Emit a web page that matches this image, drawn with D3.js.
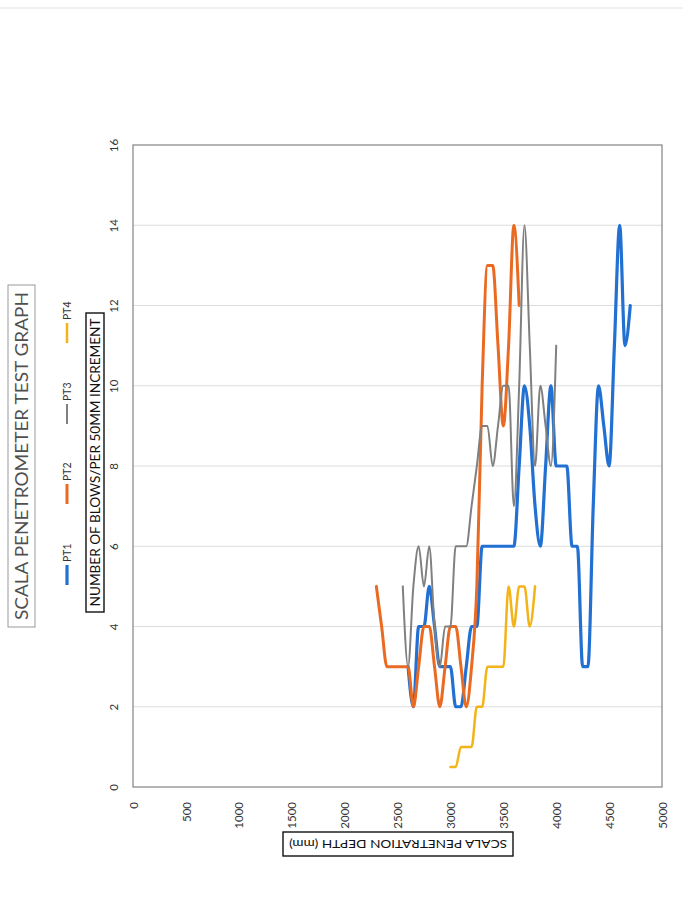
<!DOCTYPE html>
<html>
<head>
<meta charset="utf-8">
<script src="https://cdn.jsdelivr.net/npm/d3@7"></script>
<style>
  html, body { margin: 0; padding: 0; background: #ffffff; }
  svg { display: block; }
</style>
</head>
<body>
<svg id="chart" width="683" height="900"></svg>
<script>
// Scala penetrometer readings: depth (mm) against blows per 50 mm increment
const depthTicks = [0, 500, 1000, 1500, 2000, 2500, 3000, 3500, 4000, 4500, 5000];
const blowTicks = [0, 2, 4, 6, 8, 10, 12, 14, 16];
const seriesNames = ["PT1", "PT2", "PT3", "PT4"];

const pt1Depth = [2600, 2650, 2700, 2750, 2800, 2850, 2900, 2950, 3000, 3050, 3100, 3150, 3200, 3250,
  3300, 3350, 3400, 3450, 3500, 3550, 3600, 3650, 3700, 3750, 3800, 3850, 3900, 3950, 4000, 4050,
  4100, 4150, 4200, 4250, 4300, 4350, 4400, 4450, 4500, 4550, 4600, 4650, 4700];
const pt1Blows = [3, 2, 4, 4, 5, 4, 3, 3, 3, 2, 2, 3, 4, 4,
  6, 6, 6, 6, 6, 6, 6, 8, 10, 9, 7, 6, 8, 10, 8, 8,
  8, 6, 6, 3, 3, 7, 10, 9, 8, 11, 14, 11, 12];

const pt2Depth = [2300, 2350, 2400, 2450, 2500, 2550, 2600, 2650, 2700, 2750, 2800, 2850, 2900, 2950,
  3000, 3050, 3100, 3150, 3200, 3250, 3300, 3350, 3400, 3450, 3500, 3550, 3600, 3650];
const pt2Blows = [5, 4, 3, 3, 3, 3, 3, 2, 3, 4, 4, 3, 2, 3,
  4, 4, 3, 2, 3, 5, 10, 13, 13, 11, 9, 11, 14, 12];

const pt3Depth = [2550, 2600, 2650, 2700, 2750, 2800, 2850, 2900, 2950, 3000, 3050, 3100, 3150, 3200,
  3250, 3300, 3350, 3400, 3450, 3500, 3550, 3600, 3650, 3700, 3750, 3800, 3850, 3900, 3950, 4000];
const pt3Blows = [5, 3, 5, 6, 5, 6, 4, 3, 4, 4, 6, 6, 6, 7,
  8, 9, 9, 8, 9, 10, 10, 7, 10, 14, 11, 8, 10, 9, 8, 11];

const pt4Depth = [3000, 3050, 3100, 3150, 3200, 3250, 3300, 3350, 3400, 3450, 3500, 3550, 3600,
  3650, 3700, 3750, 3800];
const pt4Blows = [0.5, 0.5, 1, 1, 1, 2, 2, 3, 3, 3, 3, 5, 4, 5, 5, 4, 5];

const lineColors = ["#2170d2", "#ea6a22", "#808080", "#f2b418"];
const lineWidths = [3.2, 3, 2, 2.5];

const seriesTable = [
  [pt1Depth, pt1Blows], [pt2Depth, pt2Blows], [pt3Depth, pt3Blows], [pt4Depth, pt4Blows]
].map(([dep, bl], i) => ({
  name: seriesNames[i],
  color: lineColors[i],
  width: lineWidths[i],
  values: dep.map((d, j) => ({ depth: d, blows: bl[j] }))
}));

const svg = d3.select("#chart");
const font = "Lato, 'Open Sans', 'Liberation Sans', sans-serif";

// faint sheet edge near the top
svg.append("line").attr("x1", 0).attr("x2", 683).attr("y1", 8).attr("y2", 8)
  .attr("stroke", "#e4e4e4").attr("stroke-width", 1);

const plot = { left: 133, right: 662, top: 145, bottom: 787 };

const x = d3.scaleLinear().domain([0, 5000]).range([plot.left, plot.right]);
const y = d3.scaleLinear().domain([0, 16]).range([plot.bottom, plot.top]);

// horizontal gridlines
svg.append("g")
  .selectAll("line")
  .data(blowTicks.filter(t => t > 0 && t < 16))
  .join("line")
  .attr("x1", plot.left).attr("x2", plot.right)
  .attr("y1", d => y(d)).attr("y2", d => y(d))
  .attr("stroke", "#dcdcdc").attr("stroke-width", 1);

// plot frame
svg.append("rect")
  .attr("x", plot.left).attr("y", plot.top)
  .attr("width", plot.right - plot.left).attr("height", plot.bottom - plot.top)
  .attr("fill", "none").attr("stroke", "#8c8c8c").attr("stroke-width", 1.3);

// depth axis (labels turned to read upward)
const xAxis = svg.append("g")
  .attr("transform", `translate(0,${plot.bottom})`)
  .call(d3.axisBottom(x).tickValues(depthTicks).tickSize(0).tickFormat(d3.format("d")));
xAxis.select(".domain").remove();
xAxis.selectAll("text")
  .attr("transform", "rotate(-90)")
  .attr("x", -15).attr("y", 0).attr("dy", "0.36em")
  .style("text-anchor", "end")
  .style("font-family", font).style("font-size", "11.5px").style("fill", "#333");

// blows axis
const yAxis = svg.append("g")
  .attr("transform", `translate(${plot.left},0)`)
  .call(d3.axisLeft(y).tickValues(blowTicks).tickSize(0));
yAxis.select(".domain").remove();
yAxis.selectAll("text")
  .attr("x", 0).attr("dy", 0)
  .attr("transform", "translate(-15,0) rotate(-90)")
  .style("text-anchor", "middle")
  .style("font-family", font).style("font-size", "11.5px").style("fill", "#333");

// series lines
const line = d3.line()
  .x(d => x(d.depth))
  .y(d => y(d.blows))
  .curve(d3.curveMonotoneX);

svg.append("g")
  .selectAll("path")
  .data(seriesTable)
  .join("path")
  .attr("d", d => line(d.values))
  .attr("fill", "none")
  .attr("stroke", d => d.color)
  .attr("stroke-width", d => d.width)
  .attr("stroke-linejoin", "round")
  .attr("stroke-linecap", "round");

// chart title, boxed and turned
svg.append("rect").attr("x", 8).attr("y", 285).attr("width", 27).attr("height", 342)
  .attr("fill", "none").attr("stroke", "#9a9a9a").attr("stroke-width", 1);
svg.append("text")
  .attr("transform", "translate(28,456) rotate(-90)")
  .attr("text-anchor", "middle")
  .attr("textLength", 328).attr("lengthAdjust", "spacingAndGlyphs")
  .style("font-family", font).style("font-size", "18px").style("fill", "#505050")
  .text("SCALA PENETROMETER TEST GRAPH");

// legend
const legendSlots = [565, 484, 404, 323];
const legend = svg.append("g")
  .selectAll("g")
  .data(seriesTable)
  .join("g")
  .attr("transform", (d, i) => `translate(67,${legendSlots[i]})`);
legend.append("line")
  .attr("x1", 0).attr("x2", 0).attr("y1", 20).attr("y2", 0)
  .attr("stroke", d => d.color).attr("stroke-width", d => d.width);
legend.append("text")
  .attr("transform", "translate(4,-3) rotate(-90)")
  .attr("text-anchor", "start")
  .style("font-family", font).style("font-size", "10.5px").style("fill", "#333")
  .text(d => d.name);

// blows axis title
svg.append("rect").attr("x", 86).attr("y", 313).attr("width", 18).attr("height", 299)
  .attr("fill", "none").attr("stroke", "#111").attr("stroke-width", 1.4);
svg.append("text")
  .attr("transform", "translate(100,462.5) rotate(-90)")
  .attr("text-anchor", "middle")
  .attr("textLength", 288).attr("lengthAdjust", "spacingAndGlyphs")
  .style("font-family", font).style("font-size", "12.5px").style("fill", "#111")
  .text("NUMBER OF BLOWS/PER 50MM INCREMENT");

// depth axis title (upside down)
svg.append("rect").attr("x", 283).attr("y", 832).attr("width", 230).attr("height", 24)
  .attr("fill", "none").attr("stroke", "#111").attr("stroke-width", 1.4);
svg.append("text")
  .attr("transform", "translate(398,840) rotate(180)")
  .attr("text-anchor", "middle")
  .attr("textLength", 218).attr("lengthAdjust", "spacingAndGlyphs")
  .style("font-family", font).style("font-size", "12px").style("fill", "#111")
  .text("SCALA PENETRATION DEPTH (mm)");
</script>
</body>
</html>
